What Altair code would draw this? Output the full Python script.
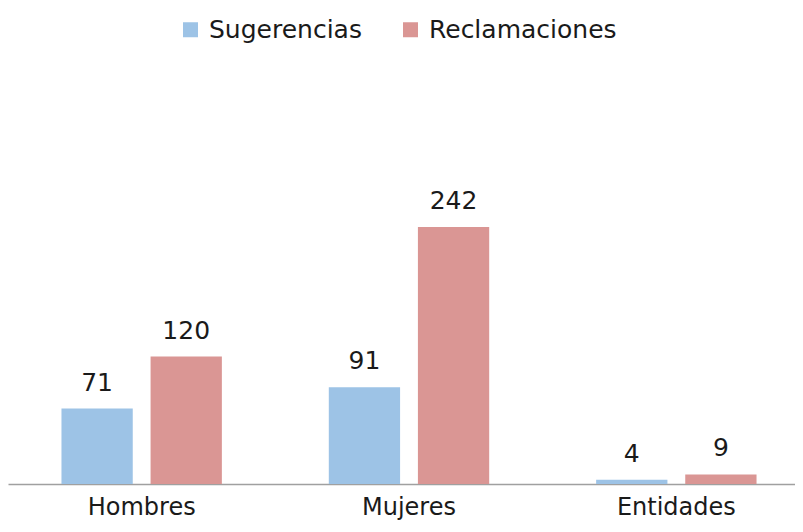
import altair as alt
import pandas as pd

categories = ["Hombres", "Mujeres", "Entidades"]
series = ["Sugerencias", "Reclamaciones"]
sugerencias = [71, 91, 4]
reclamaciones = [120, 242, 9]
colors = ["#9DC3E6", "#DA9694"]

rows = []
for c, s, r in zip(categories, sugerencias, reclamaciones):
    rows.append({"cat": c, "serie": series[0], "val": s})
    rows.append({"cat": c, "serie": series[1], "val": r})
df = pd.DataFrame(rows)

FONT = "DejaVu Sans"

x = alt.X("cat:N", sort=categories, title=None,
          scale=alt.Scale(paddingInner=0, paddingOuter=0, range=[0, 802]),
          axis=alt.Axis(labelAngle=0, ticks=False, labelFontSize=24, labelFont=FONT,
                        labelColor="#1a1a1a", labelPadding=11, labelLimit=0,
                        domainColor="#a0a0a0", domainWidth=1.5))
xo = alt.XOffset("serie:N", sort=series,
                 scale=alt.Scale(paddingInner=0.2, paddingOuter=0.6))
y = alt.Y("val:Q", scale=alt.Scale(domain=[0, 443.5], nice=False, zero=True), axis=None)

bars = alt.Chart(df).mark_bar().encode(
    x=x, xOffset=xo, y=y,
    color=alt.Color("serie:N", sort=series,
                    scale=alt.Scale(domain=series, range=colors),
                    legend=alt.Legend(title=None, orient="none", legendX=170, legendY=4,
                                      direction="horizontal", columns=2,
                                      symbolType="square", symbolSize=225,
                                      symbolStrokeWidth=0, labelFontSize=25,
                                      labelFont=FONT, labelColor="#1a1a1a",
                                      labelLimit=0,
                                      labelOffset=6, columnPadding=36,
                                      symbolOpacity=1)),
)

labels = alt.Chart(df).mark_text(baseline="bottom", dy=-13, fontSize=25, font=FONT,
                                 color="#1a1a1a").encode(
    x=x, xOffset=xo, y=y, text="val:Q"
)

chart = (bars + labels).properties(
    width=787, height=471,
    padding={"left": 0, "top": 5, "right": 0, "bottom": 40},
    autosize=alt.AutoSizeParams(type="none"),
    background="white",
).configure_view(stroke=None, strokeWidth=0)

chart.save("out.html", embed_options={"renderer": "svg", "actions": False})
